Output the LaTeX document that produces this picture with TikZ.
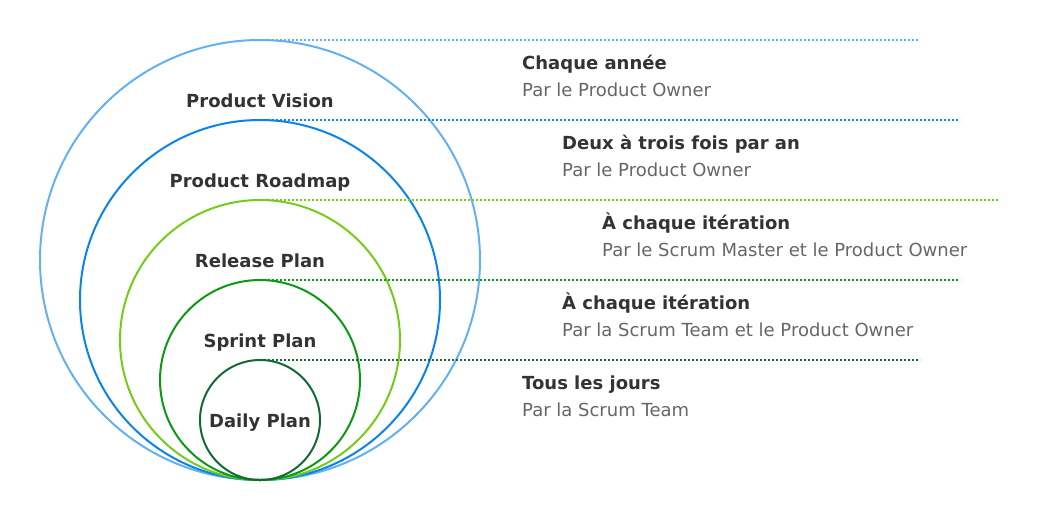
\documentclass[tikz,border=0pt]{standalone}
\usepackage{fontspec}
\setmainfont{DejaVu Sans}

\definecolor{visionblue}{HTML}{64B0F5}
\definecolor{roadmapblue}{HTML}{0A84E8}
\definecolor{releasegreen}{HTML}{74CC1A}
\definecolor{sprintgreen}{HTML}{0A9A14}
\definecolor{dailygreen}{HTML}{126B36}
\definecolor{textdark}{HTML}{333333}
\definecolor{textgray}{HTML}{666666}

\begin{document}
\begin{tikzpicture}[x=1pt, y=-1pt,
    ring/.style={line width=2pt},
    guide/.style={line width=2pt, dash pattern=on 2pt off 2pt},
    ringlabel/.style={anchor=base, inner sep=0pt, text=textdark,
                      font=\fontsize{18}{21}\selectfont\bfseries},
    when/.style={anchor=base west, inner sep=0pt, text=textdark,
                 font=\fontsize{18}{21}\selectfont\bfseries},
    who/.style={anchor=base west, inner sep=0pt, text=textgray,
                font=\fontsize{18}{21}\selectfont}]

  \useasboundingbox (0,0) rectangle (1040,520);

  % ========== cercles emboîtés ==========
  \draw[ring, visionblue]   (260,260) circle (220);
  \draw[ring, roadmapblue]  (260,300) circle (180);
  \draw[ring, releasegreen] (260,340) circle (140);
  \draw[ring, sprintgreen]  (260,380) circle (100);
  \draw[ring, dailygreen]   (260,420) circle (60);

  % sommets des cercles et fins des pointillés
  \coordinate (visiontop)   at (260,40);
  \coordinate (roadmaptop)  at (260,120);
  \coordinate (releasetop)  at (260,200);
  \coordinate (sprinttop)   at (260,280);
  \coordinate (dailytop)    at (260,360);
  \coordinate (visionend)   at (920,40);
  \coordinate (roadmapend)  at (960,120);
  \coordinate (releaseend)  at (1000,200);
  \coordinate (sprintend)   at (960,280);
  \coordinate (dailyend)    at (920,360);

  % ========== lignes pointillées ==========
  \draw[guide, visionblue]   (visiontop)  -- (visionend);
  \draw[guide, roadmapblue]  (roadmaptop) -- (roadmapend);
  \draw[guide, releasegreen] (releasetop) -- (releaseend);
  \draw[guide, sprintgreen]  (sprinttop)  -- (sprintend);
  \draw[guide, dailygreen]   (dailytop)   -- (dailyend);

  % ========== noms des plans ==========
  \node[ringlabel] (vision)  at (260,107) {Product Vision};
  \node[ringlabel] (roadmap) at (260,187) {Product Roadmap};
  \node[ringlabel] (release) at (260,267) {Release Plan};
  \node[ringlabel] (sprint)  at (260,347) {Sprint Plan};
  \node[ringlabel] (daily)   at (260,427) {Daily Plan};

  % ========== fréquence et responsables ==========
  \node[when] (visionwhen)  at (522,69)  {Chaque année};
  \node[who]  (visionwho)   at (522,96)  {Par le Product Owner};

  \node[when] (roadmapwhen) at (562,149) {Deux à trois fois par an};
  \node[who]  (roadmapwho)  at (562,176) {Par le Product Owner};

  \node[when] (releasewhen) at (602,229) {À chaque itération};
  \node[who]  (releasewho)  at (602,256) {Par le Scrum Master et le Product Owner};

  \node[when] (sprintwhen)  at (562,309) {À chaque itération};
  \node[who]  (sprintwho)   at (562,336) {Par la Scrum Team et le Product Owner};

  \node[when] (dailywhen)   at (522,389) {Tous les jours};
  \node[who]  (dailywho)    at (522,416) {Par la Scrum Team};

\end{tikzpicture}
\end{document}
